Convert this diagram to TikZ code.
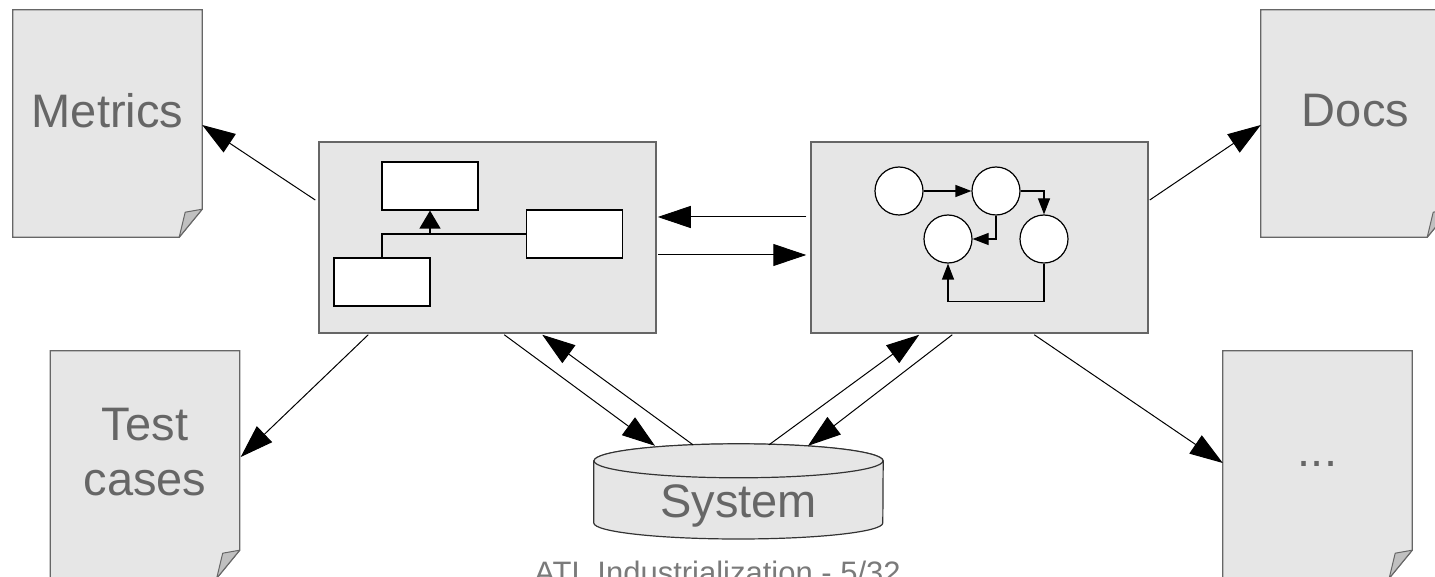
\documentclass[tikz,border=0pt]{standalone}
\usepackage{fontspec}
\setmainfont{Liberation Sans}
\usetikzlibrary{arrows.meta,calc}

\definecolor{paper}{HTML}{E6E6E6}
\definecolor{foldgray}{HTML}{C0C0C0}
\definecolor{edgegray}{HTML}{666666}
\definecolor{labelgray}{HTML}{666666}
\definecolor{footgray}{HTML}{7A7A7A}

\tikzset{
  page/.style={rectangle, draw=none, minimum width=189pt, minimum height=227pt, inner sep=0pt},
  pageline/.style={draw=edgegray, fill=paper, line width=1.3pt, line join=miter},
  foldline/.style={draw=edgegray, fill=foldgray, line width=1pt, line join=round},
  pagelabel/.style={anchor=base, text=labelgray, inner sep=0pt, font=\fontsize{47}{55}\selectfont},
  panel/.style={rectangle, draw=edgegray, fill=paper, line width=1.5pt,
    minimum width=337pt, minimum height=191pt, inner sep=0pt},
  umlbox/.style={rectangle, draw=black, fill=white, line width=1.2pt,
    minimum width=96pt, minimum height=48pt, inner sep=0pt},
  statenode/.style={circle, draw=black, fill=white, line width=1.2pt, minimum size=48pt, inner sep=0pt},
  cylbody/.style={draw=black!80, fill=paper, line width=1.2pt},
  flow/.style={draw=black, line width=1pt, -{Triangle[length=33pt,width=22pt]}},
  inherit/.style={draw=black, line width=1.2pt, -{Triangle[length=18pt,width=21pt]}},
  trans/.style={draw=black, line width=1.2pt, -{Triangle[length=16pt,width=12pt]}},
  link/.style={draw=black, line width=1.2pt},
}

% page outline with a dog-eared lower right corner
\newcommand\pageoutline[1]{%
  \path[pageline] (#1.north west) -- (#1.north east) -- ([yshift=28pt]#1.south east)
    -- ([xshift=-23pt]#1.south east) -- (#1.south west) -- cycle;
  \path[foldline] ([xshift=-23pt]#1.south east) -- ([xshift=-17pt,yshift=25pt]#1.south east)
    -- ([yshift=28pt]#1.south east) -- cycle;
}

\begin{document}
\begin{tikzpicture}[x=1pt,y=-1pt]
\useasboundingbox (0,0) rectangle (1435,577);
\clip (0,0) rectangle (1435,577);

% output documents
\node[page] (metrics) at (107.5,123.5) {};
\node[page] (tests)   at (145,464.5) {};
\node[page] (docs)    at (1355.5,123.5) {};
\node[page] (more)    at (1317.5,464.5) {};
\pageoutline{metrics}
\pageoutline{tests}
\pageoutline{docs}
\pageoutline{more}
\node[pagelabel] (metrics-label) at ($(metrics.center)+(0,4.5)$) {Metrics};
\node[pagelabel] (tests-label1)  at ($(tests.center)+(0,-24.5)$) {Test};
\node[pagelabel] (tests-label2)  at ($(tests.center)+(0,30.5)$) {cases};
\node[pagelabel] (docs-label)    at ($(docs.center)+(0,3.5)$) {Docs};
\node[pagelabel] (more-label)    at ($(more.center)+(0,1.5)$) {...};

% class model panel
\node[panel] (cls) at (487.5,237.5) {};
\node[umlbox] (cA) at (430,186) {};
\node[umlbox] (cB) at (574.5,234) {};
\node[umlbox] (cC) at (382,282) {};
\draw[link] (cC.north) |- (cB.west);
\draw[inherit] (cA.south |- cB.west) -- (cA.south);

% state machine panel
\node[panel] (sm) at (979.5,237.5) {};
\node[statenode] (s1) at (899,191) {};
\node[statenode] (s2) at (996,191) {};
\node[statenode] (s3) at (948,239) {};
\node[statenode] (s4) at (1044,239) {};
\draw[trans] (s1.east) -- (s2.west);
\draw[trans] (s2.east) -| (s4.north);
\draw[trans] (s2.south) |- (s3.east);
\draw[trans] (s4.south) -- ++(0,38) -| (s3.south);

% system cylinder
\node[rectangle, minimum width=289pt, minimum height=95pt, inner sep=0pt] (sys) at (738.5,491.5) {};
\path[cylbody] ($(sys.west)+(0,-30.5)$) -- ($(sys.west)+(0,31.5)$)
  arc[start angle=180, end angle=360, x radius=144.5pt, y radius=16pt]
  -- ($(sys.east)+(0,-30.5)$)
  arc[start angle=0, end angle=180, x radius=144.5pt, y radius=17pt] -- cycle;
\path[cylbody] ($(sys.north)+(0,17)$) ellipse [x radius=144.5pt, y radius=17pt];
\node[pagelabel] (sys-label) at ($(sys.center)+(0,25.5)$) {System};

% transformations
\draw[flow] ($(cls.west)+(-3,-37.5)$) -- ($(metrics.east)+(0,1.5)$);
\draw[flow] ($(cls.south west)+(50,1)$) -- ($(tests.east)+(1,-7.5)$);
\draw[flow] ($(sm.west)+(-4,-20.5)$) -- ($(cls.east)+(1,-20.5)$);
\draw[flow] ($(cls.east)+(1,17.5)$) -- ($(sm.west)+(-4,17.5)$);
\draw[flow] ($(cls.south west)+(186,1)$) -- ($(sys.north)+(-83.5,2)$);
\draw[flow] ($(sys.north)+(-45.5,1)$) -- ($(cls.south west)+(224,1)$);
\draw[flow] ($(sys.north)+(30.5,1)$) -- ($(sm.south west)+(109,1)$);
\draw[flow] ($(sm.south west)+(142,1)$) -- ($(sys.north)+(69.5,2)$);
\draw[flow] ($(sm.east)+(1,-37.5)$) -- ($(docs.west)+(0,1.5)$);
\draw[flow] ($(sm.south west)+(224,1)$) -- ($(more.west)+(0,-1.5)$);

% footer
\node[anchor=base, text=footgray, inner sep=0pt, font=\fontsize{31}{37}\selectfont] (footer)
  at (717.5,583) {ATL Industrialization - 5/32};
\end{tikzpicture}
\end{document}
